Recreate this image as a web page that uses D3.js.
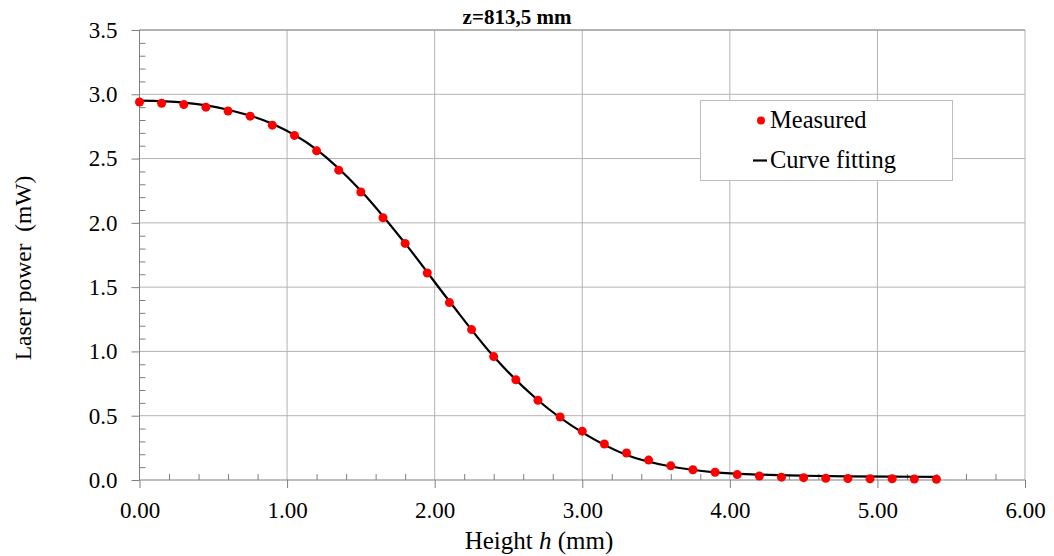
<!DOCTYPE html>
<html><head><meta charset="utf-8">
<script src="https://cdn.jsdelivr.net/npm/d3@7/dist/d3.min.js"></script>
<style>
body{margin:0;background:#fff;}
text{font-family:"Liberation Serif","Times New Roman",serif;fill:#000;}
</style></head>
<body><svg id="c" width="1054" height="556"></svg>
<script>
// Data
const heightMeasured = [0.00,0.15,0.30,0.45,0.60,0.75,0.90,1.05,1.20,1.35,1.50,1.65,1.80,1.95,2.10,2.25,2.40,2.55,2.70,2.85,3.00,3.15,3.30,3.45,3.60,3.75,3.90,4.05,4.20,4.35,4.50,4.65,4.80,4.95,5.10,5.25,5.40];
const powerMeasured = [2.94,2.93,2.92,2.90,2.87,2.83,2.76,2.68,2.56,2.41,2.24,2.04,1.84,1.61,1.38,1.17,0.96,0.78,0.62,0.49,0.38,0.28,0.21,0.155,0.11,0.08,0.06,0.042,0.031,0.022,0.018,0.014,0.012,0.01,0.01,0.008,0.006];
const heightFit = [0.00,0.30,0.60,0.90,1.20,1.50,1.80,2.10,2.40,2.70,3.00,3.30,3.60,3.90,4.20,4.50,4.80,5.10,5.40];
const powerFit = [2.95,2.935,2.88,2.77,2.57,2.25,1.84,1.39,0.96,0.62,0.37,0.195,0.105,0.06,0.042,0.033,0.028,0.026,0.025];
const xTicks = [0,1,2,3,4,5,6];
const yTicks = [0,0.5,1.0,1.5,2.0,2.5,3.0,3.5];
const titleText = "z=813,5 mm";
const legendLabels = ["Measured","Curve fitting"];

const svg = d3.select("#c");
const L=139.5, R=1025, T=30, B=480;
const x = d3.scaleLinear().domain([0,6]).range([L,R]);
const y = d3.scaleLinear().domain([0,3.5]).range([B,T]);

// gridlines
const grid = svg.append("g");
grid.selectAll(".gx").data(xTicks.slice(1)).join("line")
  .attr("x1",d=>x(d)).attr("x2",d=>x(d)).attr("y1",T).attr("y2",B)
  .attr("stroke","#b3b3b3").attr("stroke-width",1);
grid.selectAll(".gy").data(yTicks.slice(1)).join("line")
  .attr("x1",L).attr("x2",R).attr("y1",d=>y(d)).attr("y2",d=>y(d))
  .attr("stroke","#b3b3b3").attr("stroke-width",1);
// top border
svg.append("line").attr("x1",L).attr("x2",R).attr("y1",T).attr("y2",T).attr("stroke","#8c8c8c");

// minor ticks
const xMinor = d3.range(0,6.001,0.2).filter(v=>Math.abs(v-Math.round(v))>1e-6);
svg.append("g").attr("transform",`translate(0,${B})`)
  .call(d3.axisBottom(x).tickValues(xMinor).tickSize(-6).tickFormat(""))
  .call(g=>g.select(".domain").remove())
  .call(g=>g.selectAll("line").attr("stroke","#7f7f7f"));
const yMinor = d3.range(0,3.501,0.1).filter(v=>Math.abs(v*2-Math.round(v*2))>1e-6);
svg.append("g").attr("transform",`translate(${L},0)`)
  .call(d3.axisLeft(y).tickValues(yMinor).tickSize(-6).tickFormat(""))
  .call(g=>g.select(".domain").remove())
  .call(g=>g.selectAll("line").attr("stroke","#7f7f7f"));

// major axes
const xa = svg.append("g").attr("transform",`translate(0,${B})`)
  .call(d3.axisBottom(x).tickValues(xTicks).tickSize(8).tickPadding(14).tickFormat(d3.format(".2f")));
xa.select(".domain").attr("stroke","#7f7f7f").attr("d",`M${L},0H${R}`);
xa.selectAll("line").attr("stroke","#7f7f7f");
xa.selectAll("text").style("font-family","Liberation Serif").style("font-size","23px").attr("fill","#000");

const ya = svg.append("g").attr("transform",`translate(${L},0)`)
  .call(d3.axisLeft(y).tickValues(yTicks).tickSize(8).tickPadding(14).tickFormat(d3.format(".1f")));
ya.select(".domain").attr("stroke","#7f7f7f").attr("d",`M0,${B}V${T}`);
ya.selectAll("line").attr("stroke","#7f7f7f");
ya.selectAll("text").style("font-family","Liberation Serif").style("font-size","23px").attr("fill","#000");

// fit line
const fit = heightFit.map((h,i)=>[h,powerFit[i]]);
svg.append("path").datum(fit)
  .attr("d",d3.line().x(d=>x(d[0])).y(d=>y(d[1])).curve(d3.curveMonotoneX))
  .attr("fill","none").attr("stroke","#000").attr("stroke-width",2.2);

// points
svg.append("g").selectAll("circle").data(heightMeasured.map((h,i)=>[h,powerMeasured[i]])).join("circle")
  .attr("cx",d=>x(d[0])).attr("cy",d=>y(d[1])).attr("r",4.5).attr("fill","#ff0000");

// title
svg.append("text").attr("x",517).attr("y",24).attr("text-anchor","middle")
  .style("font-size","21px").style("font-weight","bold").text(titleText);

// axis titles
const xl = svg.append("text").attr("x",539).attr("y",549).attr("text-anchor","middle").style("font-size","25px");
xl.append("tspan").text("Height ");
xl.append("tspan").style("font-style","italic").text("h");
xl.append("tspan").text(" (mm)");
svg.append("text").attr("transform","translate(31,268) rotate(-90)").attr("text-anchor","middle")
  .style("font-size","23.5px").style("white-space","pre").text("Laser power  (mW)");

// legend
const lg = svg.append("g");
lg.append("rect").attr("x",700.5).attr("y",100.5).attr("width",252).attr("height",80)
  .attr("fill","#fff").attr("stroke","#bdbdbd");
lg.append("circle").attr("cx",761).attr("cy",120.5).attr("r",4).attr("fill","#ff0000");
lg.append("text").attr("x",770).attr("y",128).style("font-size","24.5px").text(legendLabels[0]);
lg.append("line").attr("x1",753).attr("x2",767).attr("y1",160.5).attr("y2",160.5).attr("stroke","#000").attr("stroke-width",2.2);
lg.append("text").attr("x",770).attr("y",168).style("font-size","24.5px").text(legendLabels[1]);
</script></body></html>
